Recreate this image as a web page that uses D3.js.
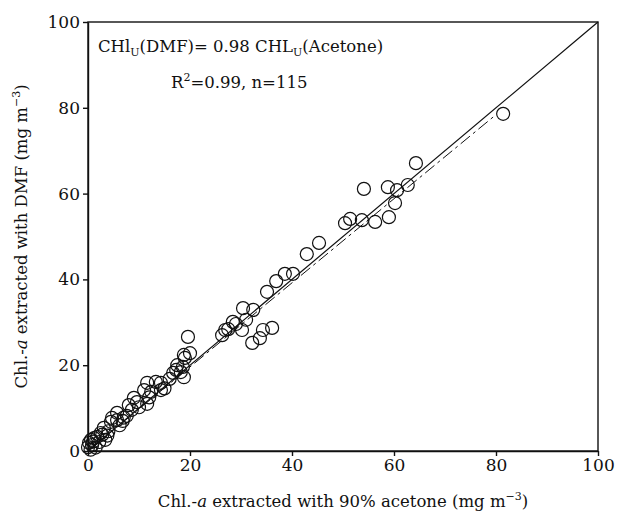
<!DOCTYPE html>
<html>
<head>
<meta charset="utf-8">
<script src="https://cdn.jsdelivr.net/npm/d3@7"></script>
<style>
  body { margin: 0; background: #fff; }
  text { font-family: "DejaVu Serif", serif; fill: #111; }
  .axis path, .axis line { stroke: #111; stroke-width: 1.4; }
  .axis text { font-size: 17px; }
</style>
</head>
<body>
<div id="chart"></div>
<script>
// acetone (x) vs DMF (y), mg m-3
const acetone = [81.4, 64.3, 62.7, 60.6, 58.8, 54.1, 60.2, 59.0, 56.3, 53.7, 51.4, 50.4,
  45.3, 42.9, 40.2, 38.6, 36.9, 35.1, 32.4, 30.4, 28.4, 26.9, 26.3, 30.2, 34.3, 36.1,
  33.7, 32.2, 19.6, 20.0, 19.0, 18.6, 18.8, 17.5, 17.3, 16.7, 18.2, 18.8, 14.3, 13.3,
  11.6, 11.0, 12.4, 14.3, 9.0, 9.6, 8.0, 8.6, 5.7, 4.7, 4.5, 5.7, 3.1, 2.5, 1.8, 1.2,
  0.6, 0.2, 0.0, 0.8, 2.2, 11.6, 12.0, 10.0, 7.0, 6.2, 3.8, 3.4, 1.5, 0.5, 1.0, 2.8,
  4.0, 6.8, 7.6, 15.0, 16.0, 27.5, 29.0, 31.0];
const dmf = [78.6, 67.1, 62.0, 60.8, 61.5, 61.1, 57.8, 54.5, 53.4, 53.8, 54.1, 53.1,
  48.5, 45.9, 41.3, 41.3, 39.6, 37.1, 32.9, 33.3, 30.1, 28.2, 27.0, 28.2, 28.2, 28.7,
  26.3, 25.2, 26.6, 22.8, 21.7, 19.6, 22.4, 20.0, 18.9, 18.2, 18.4, 17.2, 15.9, 16.1,
  15.9, 14.2, 13.8, 14.2, 12.4, 11.4, 10.7, 9.6, 8.9, 7.7, 6.8, 7.2, 5.4, 4.2, 3.3, 3.0,
  2.6, 1.9, 0.9, 1.4, 2.1, 11.0, 12.5, 10.2, 7.8, 6.0, 3.6, 2.6, 0.8, 0.3, 2.2, 3.8,
  4.6, 7.0, 8.2, 14.6, 16.8, 28.4, 29.6, 30.6];
const ticks = [0, 20, 40, 60, 80, 100];
const slope = 0.98;      // regression
const fitEnd = 80;       // regression drawn up to this x

const width = 618, height = 515;
const margin = { top: 22, right: 20, bottom: 64, left: 88 };

const svg = d3.select('#chart').append('svg')
  .attr('width', width).attr('height', height);

const x = d3.scaleLinear().domain([0, 100]).range([margin.left, width - margin.right]);
const y = d3.scaleLinear().domain([0, 100]).range([height - margin.bottom, margin.top]);

svg.append('g').attr('class', 'axis')
  .attr('transform', `translate(0,${y(0)})`)
  .call(d3.axisBottom(x).tickValues(ticks).tickSize(5).tickPadding(3).tickSizeOuter(0));

svg.append('g').attr('class', 'axis')
  .attr('transform', `translate(${x(0)},0)`)
  .call(d3.axisLeft(y).tickValues(ticks).tickSize(5).tickPadding(3).tickSizeOuter(0));

// frame
svg.append('rect')
  .attr('x', x(0)).attr('y', y(100))
  .attr('width', x(100) - x(0)).attr('height', y(0) - y(100))
  .attr('fill', 'none').attr('stroke', '#111').attr('stroke-width', 1.4);

// 1:1 line
svg.append('line')
  .attr('x1', x(0)).attr('y1', y(0)).attr('x2', x(100)).attr('y2', y(100))
  .attr('stroke', '#111').attr('stroke-width', 1.2);

// regression line
svg.append('line')
  .attr('x1', x(0)).attr('y1', y(0)).attr('x2', x(fitEnd)).attr('y2', y(slope * fitEnd))
  .attr('stroke', '#111').attr('stroke-width', 1)
  .attr('stroke-dasharray', '12,4,3,4');

svg.append('g').selectAll('circle')
  .data(acetone.map((a, i) => [a, dmf[i]]))
  .join('circle')
  .attr('cx', d => x(d[0]))
  .attr('cy', d => y(d[1]))
  .attr('r', 6.5)
  .attr('fill', 'none')
  .attr('stroke', '#111')
  .attr('stroke-width', 1.2);

// equation
const eq = svg.append('text').attr('x', 98).attr('y', 52).style('font-size', '16.5px');
eq.append('tspan').text('CHl');
eq.append('tspan').attr('dy', 4).style('font-size', '11px').text('U');
eq.append('tspan').attr('dy', -4).text('(DMF)= 0.98 CHL');
eq.append('tspan').attr('dy', 4).style('font-size', '11px').text('U');
eq.append('tspan').attr('dy', -4).text('(Acetone)');

const r2 = svg.append('text').attr('x', 171).attr('y', 88).style('font-size', '16.5px');
r2.append('tspan').text('R');
r2.append('tspan').attr('dy', -7).style('font-size', '11px').text('2');
r2.append('tspan').attr('dy', 7).text('=0.99, n=115');

// axis titles
const xt = svg.append('text').attr('x', (x(0) + x(100)) / 2).attr('y', 507)
  .attr('text-anchor', 'middle').style('font-size', '16.5px');
xt.append('tspan').text('Chl.-');
xt.append('tspan').style('font-style', 'italic').text('a');
xt.append('tspan').text(' extracted with 90% acetone (mg m');
xt.append('tspan').attr('dy', -7).style('font-size', '11px').text('−3');
xt.append('tspan').attr('dy', 7).text(')');

const yt = svg.append('text')
  .attr('transform', `translate(27,${(y(0) + y(100)) / 2}) rotate(-90)`)
  .attr('text-anchor', 'middle').style('font-size', '16.5px');
yt.append('tspan').text('Chl.-');
yt.append('tspan').style('font-style', 'italic').text('a');
yt.append('tspan').text(' extracted with DMF (mg m');
yt.append('tspan').attr('dy', -7).style('font-size', '11px').text('−3');
yt.append('tspan').attr('dy', 7).text(')');
</script>
</body>
</html>
